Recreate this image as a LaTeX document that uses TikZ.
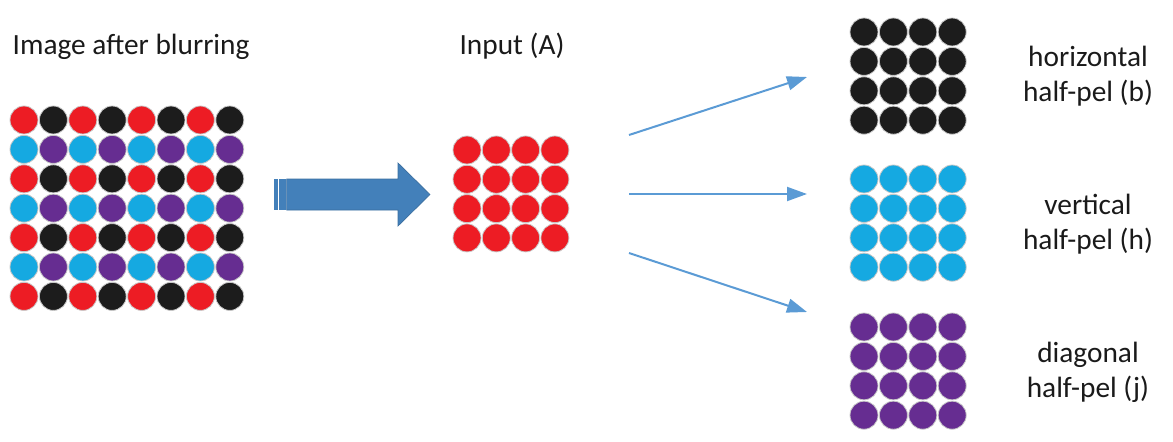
\documentclass[tikz,border=0pt]{standalone}
\usepackage{fontspec}
\setsansfont{Carlito}
\usepackage{xcolor}
\definecolor{cRed}{HTML}{ED1C24}
\definecolor{cBlk}{HTML}{1C1C1C}
\definecolor{cCyan}{HTML}{15A9E1}
\definecolor{cPur}{HTML}{662D91}
\definecolor{cRim}{HTML}{C8C8C8}
\definecolor{cBlock}{HTML}{4380BA}
\definecolor{cBlockD}{HTML}{3A6E9F}
\definecolor{cLine}{HTML}{5B9BD5}
\definecolor{ink}{HTML}{1A1A1A}
\usepackage{tikz}
\usetikzlibrary{arrows.meta}

\begin{document}
\begin{tikzpicture}[x=0.75pt,y=-0.75pt,
  font=\sffamily\fontsize{22}{26.25}\selectfont,
  every node/.style={align=center,text=ink},
  px/.style={circle,draw=cRim,line width=0.6pt,minimum size=21pt,inner sep=0pt},
  lbl/.style={anchor=base},
  e/.style={-{Triangle[length=15pt,width=10.5pt]},cLine,line width=1.5pt}]
\useasboundingbox (0,0) rectangle (1173,442);

% --- titles ---
\node[lbl,anchor=base west] (tBlur) at (8,55) {Image after blurring};
\node[lbl] (tIn) at (512,55) {Input (A)};

% --- blurred image, 8 x 7 ---
\foreach \r in {0,...,6}
  \foreach \c in {0,...,7}{
    \pgfmathtruncatemacro\k{mod(\r,2)*2+mod(\c,2)}
    \pgfmathparse{{"cRed","cBlk","cCyan","cPur"}[\k]}
    \edef\col{\pgfmathresult}
    \node[px,fill=\col] (b-\r-\c) at (24+29.4*\c,120+29.4*\r) {};
  }

% --- block arrow ---
\fill[cBlock] (274,179) rectangle (277.8,210);
\fill[cBlock] (278.8,179) rectangle (285.6,210);
\filldraw[fill=cBlock,draw=cBlockD,line width=0.5pt]
  (286.6,179) -- (398,179) -- (398,163) -- (430,194.5)
  -- (398,226) -- (398,210) -- (286.6,210) -- cycle;

% --- input, 4 x 4 ---
\foreach \r in {0,...,3}
  \foreach \c in {0,...,3}
    \node[px,fill=cRed] (a-\r-\c) at (467+29.3*\c,150+29.3*\r) {};

% --- half-pel grids ---
\foreach \r in {0,...,3}
  \foreach \c in {0,...,3}{
    \node[px,fill=cBlk]  (hb-\r-\c) at (864+29.4*\c,32+29.4*\r) {};
    \node[px,fill=cCyan] (hh-\r-\c) at (864+29.4*\c,179+29.4*\r) {};
    \node[px,fill=cPur]  (hj-\r-\c) at (864+29.4*\c,327+29.4*\r) {};
  }

% labels (base = last line)
\node[lbl] (lb) at (1088,102) {horizontal\\half-pel (b)};
\node[lbl] (lh) at (1088,249) {vertical\\half-pel (h)};
\node[lbl] (lj) at (1088,397) {diagonal\\half-pel (j)};

% arrows
\coordinate (s1) at (629,135);
\coordinate (s2) at (629,194);
\coordinate (s3) at (629,253);
\coordinate (t1) at (807,77);
\coordinate (t2) at (807,194);
\coordinate (t3) at (807,312);
\draw[e] (s1) -- (t1);
\draw[e] (s2) -- (t2);
\draw[e] (s3) -- (t3);
\end{tikzpicture}
\end{document}
